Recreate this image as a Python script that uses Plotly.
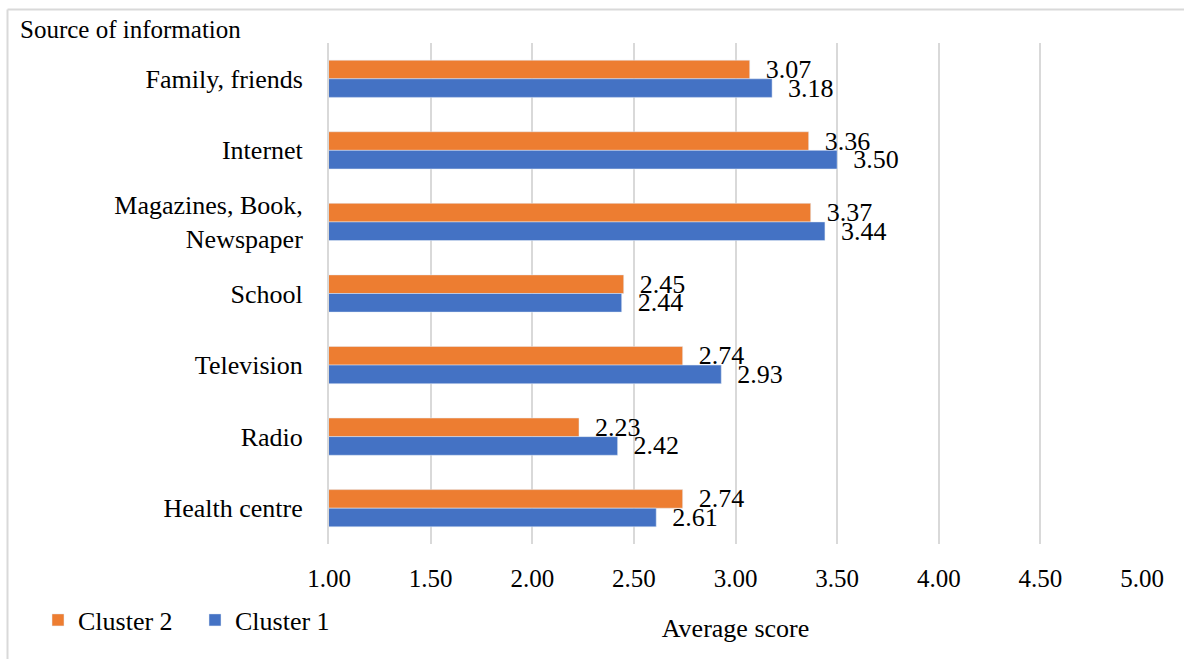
import plotly.graph_objects as go

# Survey data: average score by source of information
categories = [
    "Family, friends",
    "Internet",
    "Magazines, Book,<br>Newspaper",
    "School",
    "Television",
    "Radio",
    "Health centre",
]
cluster2 = [3.07, 3.36, 3.37, 2.45, 2.74, 2.23, 2.74]
cluster1 = [3.18, 3.50, 3.44, 2.44, 2.93, 2.42, 2.61]
x_ticks = [1.0, 1.5, 2.0, 2.5, 3.0, 3.5, 4.0, 4.5, 5.0]

ORANGE = "#ED7D31"
BLUE = "#4472C4"
GRID = "#D9D9D9"
FONT = "Liberation Serif"

W, H = 1184, 659
L, R, T, B = 329, 42, 43, 115
pw = W - L - R
ph = H - T - B


def px_x(p):
    return (p - L) / pw


def px_y(p):
    return (H - B - p) / ph


fig = go.Figure()
for name, vals, color in [("Cluster 2", cluster2, ORANGE), ("Cluster 1", cluster1, BLUE)]:
    fig.add_trace(
        go.Bar(
            y=categories,
            x=vals,
            orientation="h",
            name=name,
            marker=dict(color=color),
            texttemplate="\u00a0\u00a0%{x:.2f}",
            textposition="outside",
            constraintext="none",
            cliponaxis=False,
            textfont=dict(family=FONT, size=26, color="#000"),
        )
    )

# chart-area border (top and left edges visible)
fig.add_shape(type="line", xref="paper", yref="paper",
              x0=px_x(7.5), x1=px_x(1190), y0=px_y(9.5), y1=px_y(9.5),
              line=dict(color=GRID, width=2))
fig.add_shape(type="line", xref="paper", yref="paper",
              x0=px_x(7.5), x1=px_x(7.5), y0=px_y(9.5), y1=px_y(665),
              line=dict(color=GRID, width=2))

fig.add_annotation(text="Source of information", xref="paper", yref="paper",
                   x=px_x(18), y=px_y(30), xanchor="left", yanchor="middle",
                   showarrow=False, font=dict(family=FONT, size=25, color="#000"))

fig.update_layout(
    width=W,
    height=H,
    margin=dict(l=L, r=R, t=T, b=B),
    paper_bgcolor="white",
    plot_bgcolor="white",
    barmode="group",
    bargap=0.48,
    bargroupgap=0,
    font=dict(family=FONT, size=25, color="#000"),
    xaxis=dict(
        range=[1, 5],
        tickvals=x_ticks,
        tickformat=".2f",
        showgrid=True,
        gridcolor=GRID,
        gridwidth=2,
        zeroline=False,
        ticklabelstandoff=17,
        tickfont=dict(family=FONT, size=25),
        title=dict(text="Average score", standoff=27, font=dict(family=FONT, size=26)),
    ),
    yaxis=dict(
        autorange="reversed",
        showline=True,
        linecolor=GRID,
        linewidth=2,
        showgrid=False,
        ticklabelstandoff=19,
        tickfont=dict(family=FONT, size=26),
    ),
    legend=dict(
        orientation="h",
        x=px_x(38),
        y=px_y(620),
        xanchor="left",
        yanchor="middle",
        font=dict(family=FONT, size=26),
        itemwidth=30,
        entrywidth=112,
    ),
)

fig.write_html("out.html", config={"displayModeBar": False},
               post_script="document.body.style.margin='0';")
